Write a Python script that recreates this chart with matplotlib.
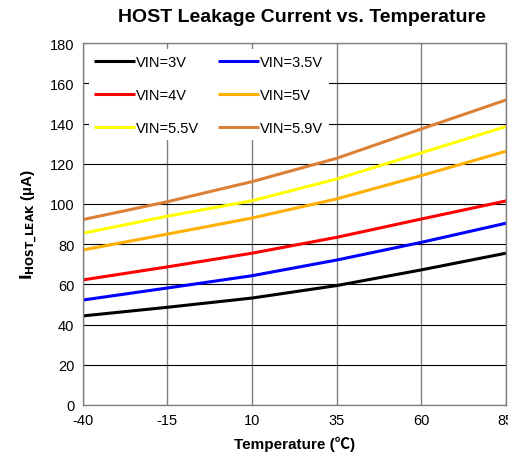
import matplotlib.pyplot as plt

plt.rcParams['font.family'] = ['Liberation Sans', 'Noto Sans CJK SC', 'DejaVu Sans']
plt.rcParams['axes.unicode_minus'] = False

temps = [-40, -15, 10, 35, 60, 85]
vin_3v = [44.3, 48.6, 53.2, 59.4, 67.2, 75.5]
vin_3v5 = [52.2, 58.2, 64.3, 72.1, 80.9, 90.4]
vin_4v = [62.2, 68.7, 75.5, 83.4, 92.5, 101.5]
vin_5v = [77.1, 85.0, 93.0, 102.5, 114.1, 126.2]
vin_5v5 = [85.4, 93.9, 101.6, 112.4, 125.4, 138.5]
vin_5v9 = [92.2, 101.1, 111.1, 122.7, 137.3, 151.7]

series = [
    ('VIN=3V', vin_3v, 'black'),
    ('VIN=3.5V', vin_3v5, '#0000FF'),
    ('VIN=4V', vin_4v, '#FF0000'),
    ('VIN=5V', vin_5v, '#FFB000'),
    ('VIN=5.5V', vin_5v5, '#FFFF00'),
    ('VIN=5.9V', vin_5v9, '#DA8137'),
]

fig = plt.figure(figsize=(5.08, 4.64), dpi=100)
ax = fig.add_axes([0.163, 0.125, 0.833, 0.78])

lines = []
for label, vals, col in series:
    ln, = ax.plot(temps, vals, color=col, lw=2.2, label=label, solid_capstyle='butt')
    lines.append(ln)

ax.set_xlim(-40, 85)
ax.set_ylim(0, 180)
ax.set_xticks(temps)
ax.set_yticks(range(0, 181, 20))
ax.grid(axis='y', color='black', lw=0.8)
ax.grid(axis='x', color='#808080', lw=1.0)
ax.set_axisbelow(True)
ax.tick_params(length=0, labelsize=10.5, pad=6)
for sp in ax.spines.values():
    sp.set_color('#808080')
    sp.set_linewidth(1.0)

ax.set_title('HOST Leakage Current vs. Temperature', fontsize=14, fontweight='bold',
             x=0.518, pad=16)
ax.set_xlabel('Temperature (℃)', fontsize=11, fontweight='bold', labelpad=6)
ax.set_ylabel(r'$\mathbf{I}_{\mathbf{HOST\_LEAK}}$ (µA)', fontsize=11, fontweight='bold', labelpad=8)

# row-wise legend order (matplotlib fills columns first)
order = [0, 2, 4, 1, 3, 5]
leg = ax.legend([lines[i] for i in order], [series[i][0] for i in order],
                loc='upper left', ncol=2, fontsize=10.5, handlelength=2.8,
                handletextpad=0.05, columnspacing=1.3, labelspacing=1.3,
                borderaxespad=0.4, frameon=True, fancybox=False)
leg.get_frame().set_facecolor('white')
leg.get_frame().set_edgecolor('none')
leg.get_frame().set_alpha(1.0)

fig.savefig('out.png', dpi=100)
